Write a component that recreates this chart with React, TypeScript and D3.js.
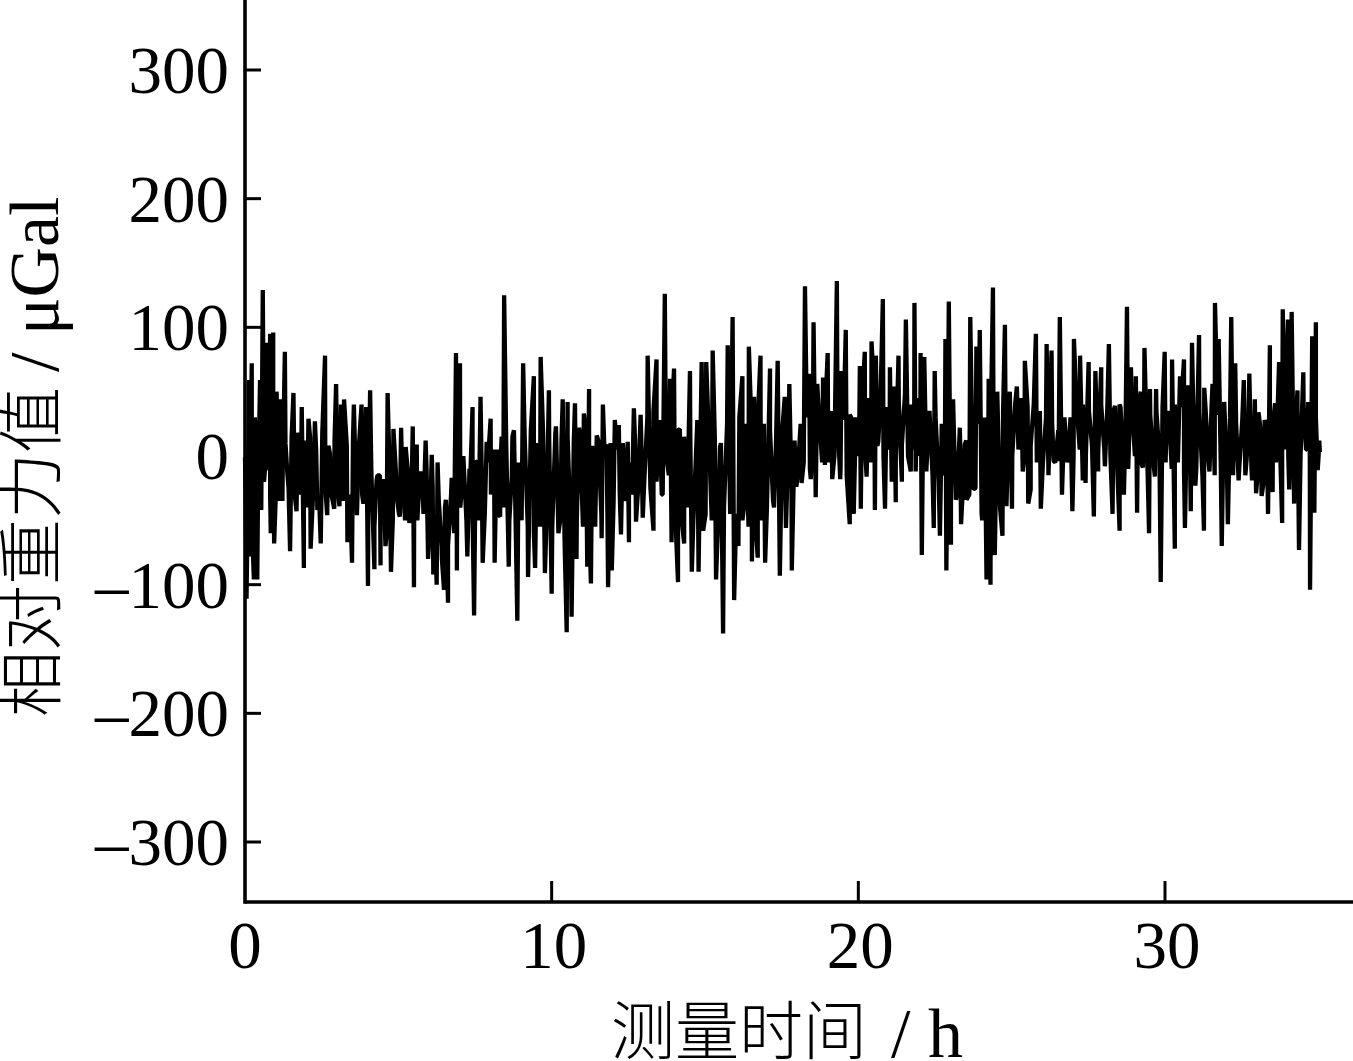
import React from "react";
import * as d3 from "d3";

const width = 1353;
const height = 1061;

// tick labels
const xTicks = [0, 10, 20, 30];
const yTicks = [-300, -200, -100, 0, 100, 200, 300];

// peak by peak (h)
const times = [
  0, .05, .13, .15, .22, .29, .36, .40, .49, .53, .58, .65, .71, .76, .82, .84, .92, .95, 1.03, 1.11,
  1.17, 1.23, 1.30, 1.38, 1.47, 1.58, 1.68, 1.74, 1.85, 1.92, 2.07, 2.14, 2.28, 2.36, 2.47, 2.61, 2.68, 2.77, 2.91, 2.97,
  3.08, 3.13, 3.23, 3.34, 3.49, 3.55, 3.65, 3.80, 3.86, 3.95, 4.01, 4.08, 4.22, 4.29, 4.40, 4.42, 4.58, 4.65, 4.76, 4.84,
  4.95, 5.05, 5.09, 5.24, 5.36, 5.47, 5.51, 5.60, 5.68, 5.80, 5.89, 5.97, 6.09, 6.14, 6.25, 6.28, 6.41, 6.49, 6.55, 6.62,
  6.74, 6.88, 6.91, 7.01, 7.12, 7.25, 7.34, 7.42, 7.47, 7.58, 7.68, 7.75, 7.88, 8.01, 8.14, 8.21, 8.32, 8.37, 8.45, 8.60,
  8.70, 8.77, 8.88, 9.07, 9.23, 9.42, 9.46, 9.64, 9.78, 9.91, 10.00, 10.14, 10.29, 10.36, 10.49, 10.52, 10.65, 10.76, 10.81, 10.89,
  11.05, 11.16, 11.22, 11.28, 11.47, 11.63, 11.67, 11.79, 11.84, 11.96, 12.06, 12.19, 12.26, 12.48, 12.52, 12.68, 12.75, 12.90, 12.97, 13.13,
  13.32, 13.42, 13.59, 13.69, 13.75, 13.86, 13.91, 13.99, 14.12, 14.18, 14.32, 14.51, 14.57, 14.75, 14.79, 14.89, 14.94, 15.04, 15.25, 15.36,
  15.49, 15.59, 15.74, 15.90, 15.95, 16.09, 16.22, 16.30, 16.43, 16.53, 16.60, 16.72, 16.81, 16.96, 17.12, 17.25, 17.37, 17.44, 17.60, 17.64,
  17.75, 17.83, 17.98, 18.11, 18.15, 18.26, 18.40, 18.45, 18.54, 18.61, 18.66, 18.85, 18.91, 19.00, 19.15, 19.30, 19.41, 19.45, 19.59, 19.72,
  19.81, 19.85, 20.05, 20.08, 20.21, 20.27, 20.43, 20.54, 20.57, 20.65, 20.80, 20.87, 21.03, 21.09, 21.17, 21.22, 21.31, 21.42, 21.55, 21.71,
  21.83, 21.87, 22.03, 22.07, 22.15, 22.22, 22.46, 22.49, 22.66, 22.84, 22.87, 22.95, 23.02, 23.09, 23.18, 23.31, 23.35, 23.47, 23.53, 23.65,
  23.75, 23.85, 23.96, 24.04, 24.18, 24.25, 24.31, 24.39, 24.45, 24.53, 24.70, 24.78, 24.83, 24.94, 25.01, 25.17, 25.36, 25.43, 25.54, 25.62,
  25.79, 25.95, 26.14, 26.20, 26.30, 26.37, 26.53, 26.57, 26.64, 26.84, 26.98, 27.03, 27.23, 27.32, 27.41, 27.51, 27.68, 27.73, 27.82, 27.92,
  28.04, 28.17, 28.29, 28.37, 28.52, 28.55, 28.66, 28.76, 28.80, 28.89, 29.05, 29.09, 29.21, 29.28, 29.33, 29.48, 29.51, 29.67, 29.71, 29.86,
  29.99, 30.05, 30.23, 30.32, 30.49, 30.62, 30.65, 30.75, 30.84, 30.88, 30.99, 31.11, 31.27, 31.28, 31.45, 31.55, 31.63, 31.75, 31.85, 31.93,
  32.05, 32.16, 32.29, 32.40, 32.57, 32.66, 32.75, 32.84, 32.93, 32.97, 33.05, 33.15, 33.25, 33.36, 33.42, 33.51, 33.59, 33.72, 33.82, 33.84,
  33.91, 34.01, 34.05, 34.13, 34.21, 34.32, 34.37, 34.51, 34.60, 34.67, 34.73, 34.80, 34.87, 34.92, 34.98, 35.03, 35.05,
];

// relative gravity at those times (uGal)
const values = [
  -1, -111, 59, -78, 72, -96, 5, -96, 59, -42, 129, -11, 88, -11, 95, -60, 96, -68, 50, -35,
  44, -11, 81, -13, -74, 49, -43, 16, 38, -87, 29, -72, 27, -42, -68, 78, -46, 2, -41, 56,
  -39, 40, 44, -67, -83, 40, -46, 40, -37, 38, -101, 51, -88, -19, -15, -85, -70, 49, -90, 21,
  -32, -47, 22, 7, -52, 23, -102, 9, -24, -31, 12, -80, 1, -92, -100, -5, -70, -104, -34, -114,
  -17, 80, -89, 72, -11, -78, -21, 38, -124, -4, 46, -83, 11, 29, -83, 5, -47, 15, 125, -86,
  -16, 20, -128, 72, -94, 62, -87, 77, -91, 51, -107, 23, -48, 44, -137, 42, -125, 41, -80, 22,
  33, -86, 52, -99, 16, -64, 40, 9, -102, -89, 28, 24, -61, 11, -67, 37, -51, 32, -48, 78,
  -58, 75, -30, 126, -2, 60, -67, 68, -98, 21, -68, 66, -90, 28, -90, 73, -58, 73, 82, -96,
  7, -138, 86, 108, -112, -70, 62, -34, 85, -82, 46, -79, 78, -83, 68, -40, 74, -93, 46, -56,
  56, -89, -24, 22, -21, 132, 64, -18, 104, -32, 56, 61, -7, 80, -18, 136, -18, 66, 98, -53,
  28, -45, 70, -41, 81, -16, 89, -42, 78, 11, 122, -41, 69, -20, 54, -36, 78, -20, 106, -12,
  119, -12, 80, -77, 77, -12, -56, 66, -62, 91, -89, 120, -69, 44, -34, 22, -53, 9, -34, 108,
  -26, 85, 98, -50, -96, 60, -100, 131, -77, 50, -62, 102, -39, 50, -41, 54, -12, 74, -37, -26,
  95, -41, 87, -15, 82, -4, -4, 108, -30, -1, -43, 91, 78, -19, -21, 73, -47, 66, -12, 69,
  -8, 87, -45, 39, -58, 38, -30, 116, -10, 69, 62, -44, 50, -9, 84, -60, 52, -16, 52, -98,
  81, 27, 75, -72, 62, 75, -56, 55, -43, 88, -23, 94, -58, 53, -12, 56, 119, 91, -70, 42,
  -53, 108, 72, -19, 59, -3, 64, -19, 44, -29, 34, -31, 28, -45, 86, -28, 41, 73, -52, 114,
  5, 106, -26, 112, -37, 51, -73, 65, 5, 42, -104, 93, -44, 104, -11, 12, 3,
];

// the solid band in the middle of the trace, one row per hour, a reading every 0.1 h
const coreStep = 0.1;
const coreValues = [
  -30, 20, -50, 30, -40, 10, -20, 25, -30, 15,
  -20, 20, -35, 10, -25, 15, -30, 18, -30, 12,
  -40, 15, -30, 5, -35, 18, -25, 8, -30, 12,
  -25, 15, -35, 8, -30, 12, -25, 10, -30, 5,
  -40, -12, -55, -15, -50, -18, -60, -15, -50, -12,
  -45, -8, -50, -15, -40, -5, -50, -12, -45, -10,
  -60, -25, -75, -35, -80, -40, -70, -30, -60, -15,
  -40, 0, -50, -10, -45, -5, -50, -15, -45, -5,
  -30, 5, -45, -10, -40, 8, -50, 15, -45, -5,
  -50, 15, -55, 20, -60, 10, -55, 18, -60, 12,
  -55, 18, -60, 12, -65, 15, -55, 10, -50, 18,
  -55, 20, -50, 8, -55, 12, -45, 5, -50, 10,
  -35, 5, -30, 10, -35, -5, -30, 12, -25, 15,
  -20, 30, -25, 35, -20, 28, -30, 25, -15, 30,
  -40, 20, -45, 15, -40, 18, -50, 10, -40, 15,
  -45, 20, -50, 15, -55, 10, -40, 25, -45, 20,
  -45, 30, -50, 25, -55, 20, -45, 28, -50, 25,
  -40, 20, -35, 15, -45, 20, -30, 10, -25, 12,
  -15, 25, -5, 30, -10, 35, -15, 30, -5, 35,
  -5, 35, 0, 30, -10, 28, -15, 32, -10, 30,
  0, 40, 5, 45, -5, 48, 8, 42, 0, 38,
  5, 45, -5, 42, 8, 48, 0, 40, 5, 45,
  0, 40, -10, 35, -15, 30, -20, 25, -15, 20,
  -25, 15, -30, 10, -20, 12, -30, 5, -25, 25,
  -45, 30, -55, 25, -50, 30, -40, 35, -35, 40,
  0, 42, 5, 45, 0, 38, 8, 40, -5, 35,
  -5, 30, 0, 25, -5, 20, 10, 30, -5, 30,
  0, 38, 5, 40, 0, 35, 8, 42, 0, 40,
  5, 38, 0, 35, 5, 40, 0, 36, 5, 38,
  0, 35, -5, 38, 0, 32, -5, 35, 0, 38,
  -5, 35, -10, 40, -5, 38, -12, 35, -5, 40,
  -10, 35, -15, 38, -5, 40, -15, 32, -10, 35,
  -10, 30, -15, 25, -10, 28, -15, 22, -10, 25,
  -15, 20, -20, 18, -10, 25, -5, 35, 0, 40,
  0, 40, 5, 35, 0, 38, 5, 30, 0, 30,
  5,
];

const serif = "'Liberation Serif', serif";
const cjk = "'Noto Sans CJK SC', sans-serif";

// peaks and band readings merged into one trace, in time order
const series = d3.sort(
  [
    ...times.map((t, i) => ({ t, v: values[i] })),
    ...coreValues.map((v, i) => ({ t: i * coreStep + 0.02, v })),
  ],
  (d) => d.t
);

const App: React.FC = () => {
  const x = d3.scaleLinear().domain([0, 30]).range([245, 1165]);
  const y = d3.scaleLinear().domain([-300, 300]).range([842, 70]);
  const axisLeft = x(0);
  const axisBottom = 902;

  const line = d3
    .line<{ t: number; v: number }>()
    .x((d) => x(d.t))
    .y((d) => y(d.v));

  return (
    <svg
      width={width}
      height={height}
      style={{ position: "absolute", left: 0, top: 0, background: "#fff" }}
    >
      {/* Data */}
      <path d={line(series) || ""} fill="none" stroke="#000" strokeWidth={4.3} strokeLinejoin="bevel" />

      {/* Y axis */}
      <line x1={axisLeft} y1={0} x2={axisLeft} y2={axisBottom + 1.7} stroke="#000" strokeWidth={3.6} />
      {yTicks.map((t) => (
        <g key={t}>
          <line x1={axisLeft} y1={y(t)} x2={axisLeft + 16} y2={y(t)} stroke="#000" strokeWidth={3} />
          <text
            x={229}
            y={y(t) + 23}
            textAnchor="end"
            fontFamily={serif}
            fontSize={67}
            fill="#000"
          >
            {t < 0 ? `–${-t}` : t}
          </text>
        </g>
      ))}

      {/* X axis */}
      <line x1={axisLeft} y1={axisBottom} x2={width} y2={axisBottom} stroke="#000" strokeWidth={3.6} />
      {xTicks.map((t) => (
        <g key={t}>
          {t > 0 && <line x1={x(t)} y1={axisBottom} x2={x(t)} y2={axisBottom - 21} stroke="#000" strokeWidth={3} />}
          <text x={x(t) + (t > 0 ? 2 : 0)} y={968} textAnchor="middle" fontFamily={serif} fontSize={67} fill="#000">
            {t}
          </text>
        </g>
      ))}

      {/* Axis titles */}
      <text x={611} y={1054} fontFamily={cjk} fontWeight={300} fontSize={64} fill="#000">
        测量时间
      </text>
      <text x={891} y={1057} fontFamily={serif} fontSize={70} fill="#000">
        / h
      </text>
      <text
        transform="translate(55,717) rotate(-90)"
        fontFamily={cjk}
        fontWeight={300}
        fontSize={66}
        fill="#000"
      >
        相对重力值
      </text>
      <text transform="translate(58,372) rotate(-90)" fontFamily={serif} fontSize={70} fill="#000">
        / μGal
      </text>
    </svg>
  );
};

export default App;
